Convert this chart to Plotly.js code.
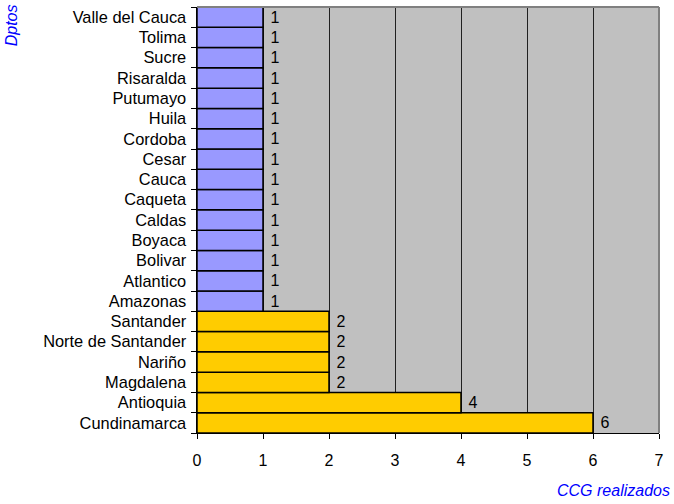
<!DOCTYPE html>
<html>
<head>
<meta charset="utf-8">
<script src="https://cdn.plot.ly/plotly-3.0.1.min.js"></script>
<style>html,body{margin:0;padding:0;background:#fff;}#chart{width:674px;height:504px;}</style>
</head>
<body>
<div id="chart"></div>
<script>
const departamentos = ["Cundinamarca","Antioquia","Magdalena","Nariño","Norte de Santander","Santander","Amazonas","Atlantico","Bolivar","Boyaca","Caldas","Caqueta","Cauca","Cesar","Cordoba","Huila","Putumayo","Risaralda","Sucre","Tolima","Valle del Cauca"];
const ccgRealizados = [6,4,2,2,2,2,1,1,1,1,1,1,1,1,1,1,1,1,1,1,1];
const xTicks = [0,1,2,3,4,5,6,7];

const colors = ccgRealizados.map(v => v > 1 ? "#FFCC00" : "#9999FF");

const trace = {
  type: "bar",
  orientation: "h",
  y: departamentos,
  x: ccgRealizados,
  marker: {color: colors, line: {color: "#000", width: 1.5}},
  text: ccgRealizados.map(v => "\u00a0" + v),
  textposition: "outside",
  textfont: {family: "Liberation Sans, Arial, sans-serif", size: 16, color: "#000"},
  cliponaxis: false,
  hoverinfo: "none"
};

const layout = {
  width: 674, height: 504,
  margin: {l: 197, r: 15, t: 7, b: 71},
  paper_bgcolor: "#fff",
  plot_bgcolor: "#C0C0C0",
  bargap: 0,
  showlegend: false,
  font: {family: "Liberation Sans, Arial, sans-serif", size: 16, color: "#000"},
  xaxis: {
    range: [0, 7], tickvals: xTicks, ticktext: xTicks.map(String),
    showgrid: true, gridcolor: "#202020", gridwidth: 1,
    zeroline: false, showline: true, linecolor: "#000", linewidth: 1,
    ticks: "outside", ticklen: 5, tickcolor: "#000", ticklabelstandoff: 8,
    tickfont: {size: 16}, fixedrange: true
  },
  yaxis: {
    type: "category", tickson: "boundaries",
    showgrid: false, zeroline: false, showline: true, linecolor: "#000", linewidth: 1.5,
    ticks: "outside", ticklen: 5, tickcolor: "#000", ticklabelstandoff: 6,
    tickfont: {size: 16.4}, fixedrange: true
  },
  shapes: [
    {type: "line", xref: "paper", yref: "paper", x0: 1, x1: 1, y0: 0, y1: 1, line: {color: "#808080", width: 2}},
    {type: "line", xref: "paper", yref: "paper", x0: 0, x1: 1, y0: 1, y1: 1, line: {color: "#808080", width: 2}}
  ],
  annotations: [
    {text: "<i>Dptos</i>", xref: "paper", yref: "paper", x: -0.402, y: 1.0, xanchor: "center", yanchor: "top", yshift: 5, textangle: -90, showarrow: false, font: {color: "#0000FF", size: 16}},
    {text: "<i>CCG realizados</i>", xref: "paper", yref: "paper", x: 1.0, y: 0, xanchor: "right", yanchor: "top", xshift: 13, yshift: -47, showarrow: false, font: {color: "#0000FF", size: 16}}
  ]
};

Plotly.newPlot("chart", [trace], layout, {staticPlot: true, displayModeBar: false});
</script>
</body>
</html>
